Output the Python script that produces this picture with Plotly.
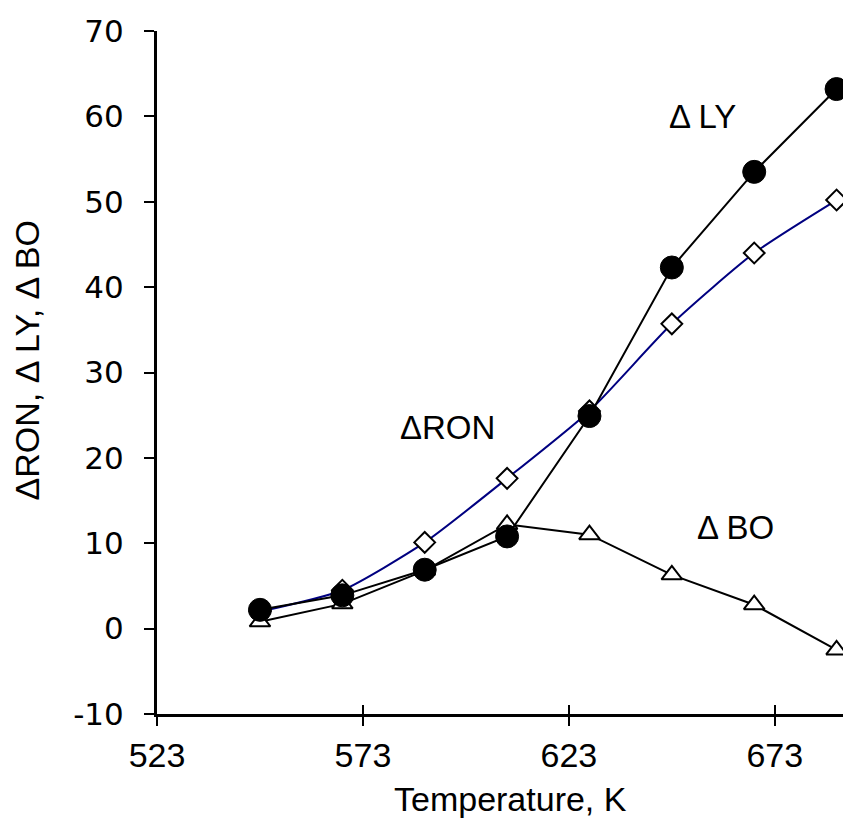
import plotly.graph_objects as go

temperature_K = [548, 568, 588, 608, 628, 648, 668, 688]
delta_LY = [2.2, 3.9, 6.9, 10.8, 24.9, 42.3, 53.5, 63.2]
delta_RON = [2.0, 4.5, 10.1, 17.6, 25.5, 35.7, 44.0, 50.2]
delta_BO = [0.8, 2.9, 6.8, 12.2, 11.0, 6.3, 2.8, -2.5]

x_ticks = [523, 573, 623, 673]
y_ticks = [-10, 0, 10, 20, 30, 40, 50, 60, 70]

labels = [
    ("\u0394 LY", 655.5, 60.0),
    ("\u0394RON", 593.5, 23.5),
    ("\u0394 BO", 663.5, 11.9),
]

x_title = "Temperature, K"
y_title = "\u0394RON, \u0394 LY, \u0394 BO"

fig = go.Figure()

fig.add_trace(go.Scatter(
    x=temperature_K, y=delta_RON, mode="lines+markers",
    line=dict(color="#000080", width=2, shape="spline", smoothing=0.6),
    marker=dict(symbol="diamond", size=16, color="white",
                line=dict(color="black", width=2)),
    name="\u0394RON"))

fig.add_trace(go.Scatter(
    x=temperature_K, y=delta_BO, mode="lines+markers",
    line=dict(color="black", width=2),
    marker=dict(symbol="triangle-up", size=18, color="white",
                line=dict(color="black", width=2)),
    name="\u0394 BO"))

fig.add_trace(go.Scatter(
    x=temperature_K, y=delta_LY, mode="lines+markers",
    line=dict(color="black", width=2),
    marker=dict(symbol="circle", size=23, color="black",
                line=dict(color="black", width=1)),
    name="\u0394 LY"))

# companion trace on overlay axis to draw the inner half of the crossing x ticks
fig.add_trace(go.Scatter(
    x=temperature_K, y=delta_LY, xaxis="x2", mode="markers",
    marker=dict(opacity=0), hoverinfo="skip", showlegend=False))

for text, xv, yv in labels:
    fig.add_annotation(x=xv, y=yv, text=text, showarrow=False,
                       font=dict(family="Liberation Sans, Arial", size=33, color="black"))

fig.add_annotation(x=0.51, y=-0.125, xref="paper", yref="paper", text=x_title,
                   showarrow=False, xanchor="center", yanchor="middle",
                   font=dict(family="Liberation Sans, Arial", size=34, color="black"))
fig.add_annotation(x=-0.187, y=0.518, xref="paper", yref="paper", text=y_title,
                   showarrow=False, textangle=-90, xanchor="center", yanchor="middle",
                   font=dict(family="Liberation Sans, Arial", size=34, color="black"))

fig.update_layout(
    width=843, height=811,
    margin=dict(l=149, r=0, t=23, b=105),
    plot_bgcolor="white", paper_bgcolor="white",
    showlegend=False,
    xaxis=dict(
        range=[523, 691.5], tickvals=x_ticks, ticktext=[str(v) for v in x_ticks],
        showgrid=False, zeroline=False, showline=True, linecolor="black", linewidth=3,
        ticks="outside", ticklen=9, tickwidth=2, tickcolor="black", automargin=False,
        tickfont=dict(family="Liberation Sans, Arial", size=34, color="black"),
    ),
    xaxis2=dict(
        range=[523, 691.5], overlaying="x", anchor="y", side="bottom",
        tickvals=x_ticks, showticklabels=False, showgrid=False, zeroline=False,
        showline=False, ticks="inside", ticklen=9, tickwidth=2, tickcolor="black",
        automargin=False,
    ),
    yaxis=dict(
        range=[-10, 70], tickvals=y_ticks, ticktext=[str(v) for v in y_ticks],
        showgrid=False, zeroline=False, showline=True, linecolor="black", linewidth=3,
        ticks="outside", ticklen=10, tickwidth=2, tickcolor="black", automargin=False,
        ticklabelstandoff=14,
        tickfont=dict(family="DejaVu Sans, Verdana", size=31, color="black"),
    ),
)

fig.write_html("out.html")
